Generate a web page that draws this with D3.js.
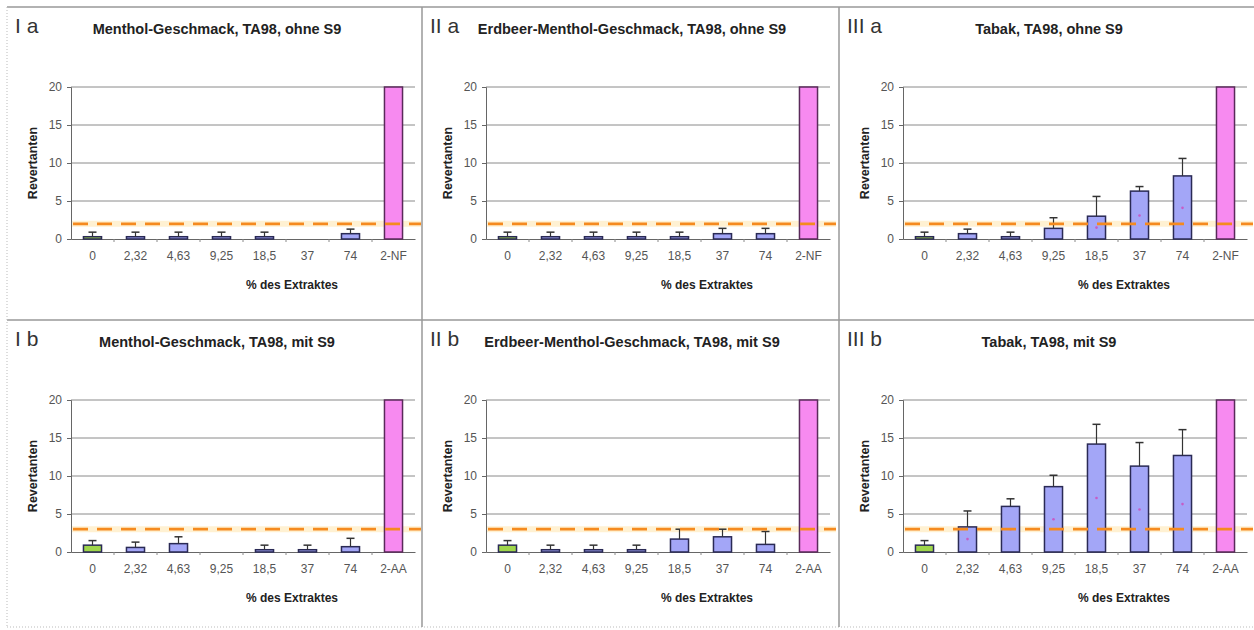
<!DOCTYPE html>
<html>
<head>
<meta charset="utf-8">
<script src="https://cdn.jsdelivr.net/npm/d3@7"></script>
<style>
  body { margin: 0; background: #fff; }
  text { font-family: "Liberation Sans", Arial, sans-serif; }
</style>
</head>
<body>
<div class="vis"></div>
<script>
// Kategorien (% des Extraktes)
const categories = ['0', '2,32', '4,63', '9,25', '18,5', '37', '74']
const controlOhne = '2-NF'
const controlMit = '2-AA'
const yTicks = [0, 5, 10, 15, 20]

// Mittelwerte der Revertanten
const mentholOhne = [0.3, 0.3, 0.3, 0.3, 0.3, 0, 0.7]
const erdbeerOhne = [0.3, 0.3, 0.3, 0.3, 0.3, 0.7, 0.7]
const tabakOhne = [0.3, 0.7, 0.3, 1.4, 3.0, 6.3, 8.3]
const mentholMit = [0.9, 0.6, 1.1, 0, 0.3, 0.3, 0.7]
const erdbeerMit = [0.9, 0.3, 0.3, 0.3, 1.7, 2.0, 1.0]
const tabakMit = [0.9, 3.3, 6.0, 8.6, 14.2, 11.3, 12.7]

// Standardabweichung (nur nach oben)
const mentholOhneSd = [0.6, 0.6, 0.6, 0.6, 0.6, 0, 0.6]
const erdbeerOhneSd = [0.6, 0.6, 0.6, 0.6, 0.6, 0.7, 0.7]
const tabakOhneSd = [0.6, 0.6, 0.6, 1.4, 2.6, 0.6, 2.3]
const mentholMitSd = [0.6, 0.7, 0.9, 0, 0.6, 0.6, 1.1]
const erdbeerMitSd = [0.6, 0.6, 0.6, 0.6, 1.3, 1.0, 1.7]
const tabakMitSd = [0.6, 2.1, 1.0, 1.5, 2.6, 3.1, 3.4]

// kleine Markierungen in den Tabak-Balken
const tabakOhneMark = [null, null, null, null, 1.5, 3.1, 4.1]
const tabakMitMark = [null, 1.7, 3.0, 4.3, 7.1, 5.6, 6.3]

// Positivkontrolle (über der Skala)
const positiveControl = 20
// Grenzwert (gestrichelte Linie)
const limitOhne = 2
const limitMit = 3

const panels = [
  { label: 'I a', title: 'Menthol-Geschmack, TA98, ohne S9', values: mentholOhne, sd: mentholOhneSd, mark: null, control: controlOhne, limit: limitOhne },
  { label: 'II a', title: 'Erdbeer-Menthol-Geschmack, TA98, ohne S9', values: erdbeerOhne, sd: erdbeerOhneSd, mark: null, control: controlOhne, limit: limitOhne },
  { label: 'III a', title: 'Tabak, TA98, ohne S9', values: tabakOhne, sd: tabakOhneSd, mark: tabakOhneMark, control: controlOhne, limit: limitOhne },
  { label: 'I b', title: 'Menthol-Geschmack, TA98, mit S9', values: mentholMit, sd: mentholMitSd, mark: null, control: controlMit, limit: limitMit },
  { label: 'II b', title: 'Erdbeer-Menthol-Geschmack, TA98, mit S9', values: erdbeerMit, sd: erdbeerMitSd, mark: null, control: controlMit, limit: limitMit },
  { label: 'III b', title: 'Tabak, TA98, mit S9', values: tabakMit, sd: tabakMitSd, mark: tabakMitMark, control: controlMit, limit: limitMit }
]

const w = 1254
const h = 630
const colX = [7, 422, 839]
const rowY = [7, 320]
const plotL = 64
const plotR = 408
const plotT = 80
const plotB = 232

const svg = d3.select('.vis')
  .append('svg')
  .attr('width', w)
  .attr('height', h)

// Rahmen
svg.append('line').attr('x1', 7).attr('x2', w).attr('y1', 7).attr('y2', 7)
  .attr('stroke', '#999').attr('stroke-width', 1.5)
svg.append('line').attr('x1', 7).attr('x2', w).attr('y1', 320).attr('y2', 320)
  .attr('stroke', '#999').attr('stroke-width', 1.5)
svg.append('line').attr('x1', 7).attr('x2', w).attr('y1', 627).attr('y2', 627)
  .attr('stroke', '#bbb').attr('stroke-dasharray', '1,2')
svg.append('line').attr('x1', 7).attr('x2', 7).attr('y1', 7).attr('y2', 627)
  .attr('stroke', '#bbb').attr('stroke-dasharray', '1,2')
svg.selectAll('.divider')
  .data([422, 839])
  .enter().append('line')
  .attr('class', 'divider')
  .attr('x1', d => d).attr('x2', d => d)
  .attr('y1', 7).attr('y2', 627)
  .attr('stroke', '#999').attr('stroke-width', 1.5)

panels.forEach((p, i) => {
  const g = svg.append('g')
    .attr('transform', 'translate(' + colX[i % 3] + ',' + rowY[Math.floor(i / 3)] + ')')

  const cats = categories.concat([p.control])
  const vals = p.values.concat([positiveControl])

  const xScale = d3.scaleBand()
    .domain(cats)
    .range([plotL, plotR])
    .paddingInner(0.58)
    .paddingOuter(0.29)
  const yScale = d3.scaleLinear()
    .domain([0, 20])
    .range([plotB, plotT])
    .clamp(true)

  // Gitterlinien
  g.selectAll('.grid')
    .data(yTicks.filter(d => d > 0))
    .enter().append('line')
    .attr('x1', plotL).attr('x2', plotR)
    .attr('y1', d => yScale(d)).attr('y2', d => yScale(d))
    .attr('stroke', '#8a8a8a').attr('stroke-width', 1)

  // heller Saum unter der Grenzlinie
  g.append('line')
    .attr('x1', plotL).attr('x2', plotR + 6)
    .attr('y1', yScale(p.limit)).attr('y2', yScale(p.limit))
    .attr('stroke', '#fff1d2').attr('stroke-width', 6)

  // y-Achse
  const yAxis = d3.axisLeft(yScale).tickValues(yTicks).tickSize(4).tickPadding(5)
  const ya = g.append('g')
    .attr('transform', 'translate(' + plotL + ',0)')
    .call(yAxis)
  ya.select('.domain').attr('stroke', '#666')
  ya.selectAll('line').attr('stroke', '#666')
  ya.selectAll('text').attr('font-size', 12).attr('fill', '#555')

  // x-Achse
  const xAxis = d3.axisBottom(xScale).tickSize(0).tickPadding(12)
  const xa = g.append('g')
    .attr('transform', 'translate(0,' + plotB + ')')
    .call(xAxis)
  xa.select('.domain').attr('stroke', '#666')
  xa.selectAll('text').attr('font-size', 12).attr('fill', '#555')
  xa.selectAll('.minor')
    .data(cats.slice(1))
    .enter().append('line')
    .attr('x1', d => xScale(d) - xScale.step() * xScale.paddingInner() / 2)
    .attr('x2', d => xScale(d) - xScale.step() * xScale.paddingInner() / 2)
    .attr('y1', 0).attr('y2', 3)
    .attr('stroke', '#888')

  // Balken
  g.selectAll('.bar')
    .data(vals)
    .enter().append('rect')
    .attr('x', (d, j) => xScale(cats[j]))
    .attr('width', xScale.bandwidth())
    .attr('y', d => yScale(d))
    .attr('height', d => plotB - yScale(d))
    .attr('fill', (d, j) => j === 0 ? '#9fd64a' : (j === cats.length - 1 ? '#f78af0' : '#a3a6f7'))
    .attr('stroke', (d, j) => j === cats.length - 1 ? '#5a2a5a' : '#2a2a55')
    .attr('stroke-width', d => d > 0 ? 1.5 : 0.5)

  // Fehlerbalken
  const err = g.selectAll('.err')
    .data(p.values.map((v, j) => ({ v: v, sd: p.sd[j], c: cats[j] })).filter(d => d.sd > 0))
    .enter().append('g')
  err.append('line')
    .attr('x1', d => xScale(d.c) + xScale.bandwidth() / 2)
    .attr('x2', d => xScale(d.c) + xScale.bandwidth() / 2)
    .attr('y1', d => yScale(d.v)).attr('y2', d => yScale(d.v + d.sd))
    .attr('stroke', '#333').attr('stroke-width', 1.2)
  err.append('line')
    .attr('x1', d => xScale(d.c) + xScale.bandwidth() / 2 - 4)
    .attr('x2', d => xScale(d.c) + xScale.bandwidth() / 2 + 4)
    .attr('y1', d => yScale(d.v + d.sd)).attr('y2', d => yScale(d.v + d.sd))
    .attr('stroke', '#333').attr('stroke-width', 1.5)

  // Markierungen
  if (p.mark) {
    g.selectAll('.mark')
      .data(p.mark.map((m, j) => ({ m: m, c: cats[j] })).filter(d => d.m !== null))
      .enter().append('circle')
      .attr('cx', d => xScale(d.c) + xScale.bandwidth() / 2)
      .attr('cy', d => yScale(d.m))
      .attr('r', 1.3)
      .attr('fill', '#c65cc6')
  }

  // Grenzwert
  g.append('line')
    .attr('x1', plotL + 2).attr('x2', plotR + 6)
    .attr('y1', yScale(p.limit)).attr('y2', yScale(p.limit))
    .attr('stroke', '#f58a1f').attr('stroke-width', 2.8)
    .attr('stroke-dasharray', '15,9')

  // Beschriftungen
  g.append('text')
    .attr('x', 8).attr('y', 26)
    .attr('font-size', 21)
    .attr('fill', '#333')
    .text(p.label)
  g.append('text')
    .attr('x', 210).attr('y', 27)
    .attr('text-anchor', 'middle')
    .attr('font-size', 14.5)
    .attr('font-weight', 'bold')
    .attr('fill', '#222')
    .text(p.title)
  g.append('text')
    .attr('x', 285).attr('y', 282)
    .attr('text-anchor', 'middle')
    .attr('font-size', 12)
    .attr('font-weight', 'bold')
    .attr('fill', '#222')
    .text('% des Extraktes')
  g.append('text')
    .attr('transform', 'translate(30,' + (plotT + plotB) / 2 + ') rotate(-90)')
    .attr('text-anchor', 'middle')
    .attr('font-size', 12.5)
    .attr('font-weight', 'bold')
    .attr('fill', '#222')
    .text('Revertanten')
})
</script>
</body>
</html>
